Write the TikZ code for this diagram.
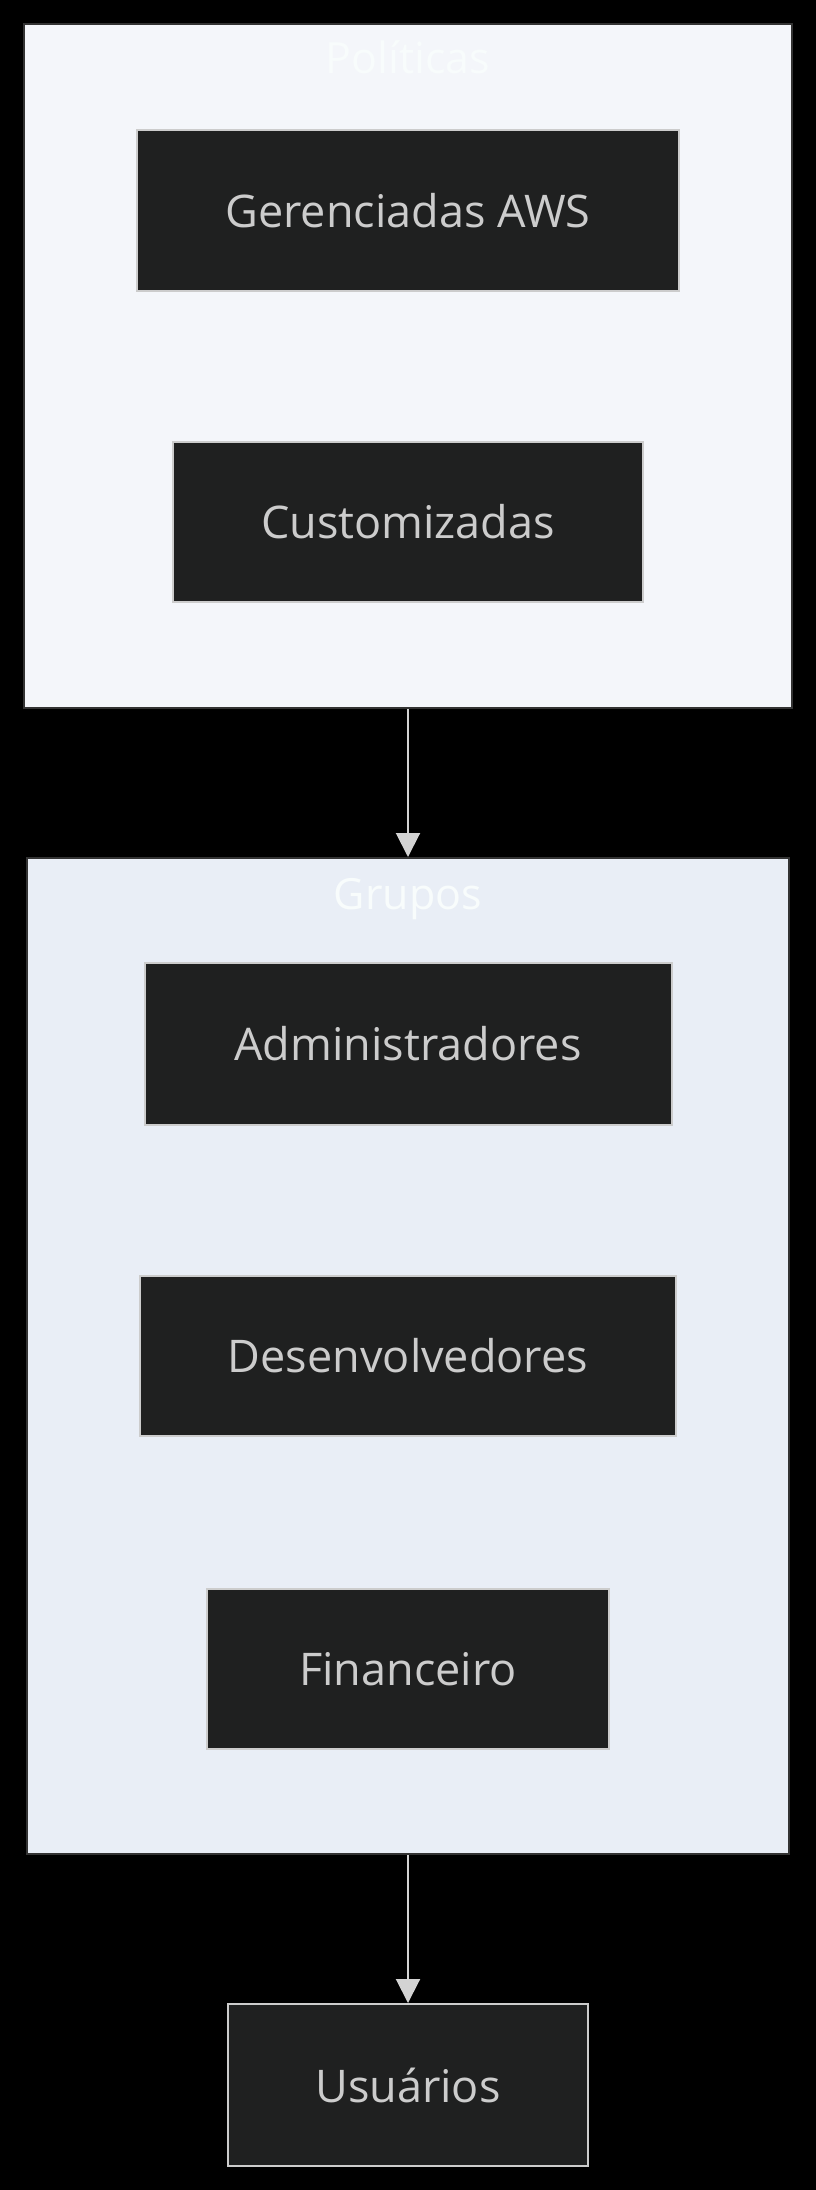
\documentclass[tikz,border=0pt]{standalone}
\usepackage{fontspec}
\setmainfont{Open Sans}
\usetikzlibrary{arrows.meta}
\definecolor{nodefill}{HTML}{1F2020}
\definecolor{nodeline}{HTML}{CCCCCC}
\definecolor{nodetext}{HTML}{CCCCCC}
\definecolor{clusterA}{HTML}{F4F6FA}
\definecolor{clusterB}{HTML}{E9EEF6}
\definecolor{clusterline}{HTML}{333333}
\definecolor{titletext}{HTML}{F8FCFC}
\definecolor{edgecol}{HTML}{D3D3D3}
\tikzset{
  x=1pt,y=-1pt,
  clusterbox/.style={draw=clusterline,line width=2.5pt},
  nodebox/.style={draw=nodeline,fill=nodefill,line width=2pt,inner sep=0pt,
    text=nodetext,font=\fontsize{45}{50}\selectfont},
  clustertitle/.style={text=titletext,font=\fontsize{43}{48}\selectfont,inner sep=0pt},
  edge/.style={draw=edgecol,line width=2pt,-{Triangle[length=24pt,width=24pt]}}
}
\begin{document}
\begin{tikzpicture}
\fill[black] (0,0) rectangle (816,2190);
\useasboundingbox (0,0) rectangle (816,2190);
% clusters
\draw[clusterbox,fill=clusterA] (24,24) rectangle (792,708);
\node[clustertitle] (tpol) at (408,57) {Políticas};
\draw[clusterbox,fill=clusterB] (27,858) rectangle (789,1854);
\node[clustertitle] (tgru) at (408,899) {Grupos};
\coordinate (polbot) at (408,709);
\coordinate (grutop) at (408,857);
\coordinate (grubot) at (408,1855);
% nodes
\node[nodebox,minimum width=542pt,minimum height=161pt] (ger) at (408,210.5) {Gerenciadas AWS};
\node[nodebox,minimum width=470pt,minimum height=160pt] (cus) at (408,522) {Customizadas};
\node[nodebox,minimum width=527pt,minimum height=162pt] (adm) at (408,1044) {Administradores};
\node[nodebox,minimum width=536pt,minimum height=160pt] (des) at (408,1356) {Desenvolvedores};
\node[nodebox,minimum width=402pt,minimum height=160pt] (fin) at (408,1669) {Financeiro};
\node[nodebox,minimum width=360pt,minimum height=162pt] (usu) at (408,2085) {Usuários};
% edges
\draw[edge] (polbot) -- (grutop);
\draw[edge] (grubot) -- (usu.north);
\end{tikzpicture}
\end{document}
